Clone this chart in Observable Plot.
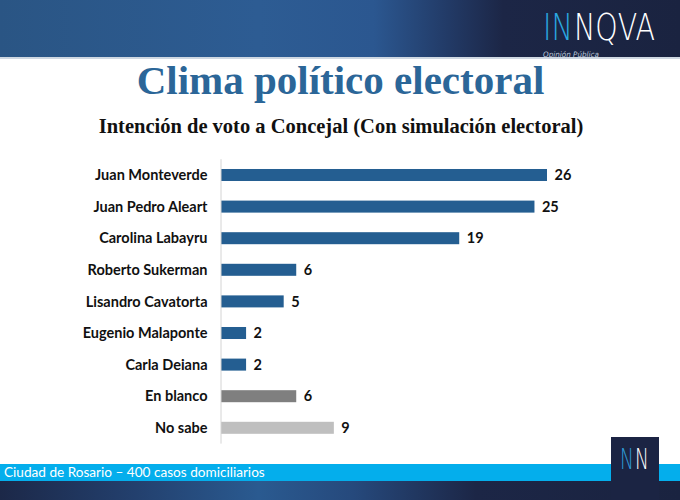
<!DOCTYPE html>
<html>
<head>
<meta charset="utf-8">
<script src="https://cdn.jsdelivr.net/npm/d3@7"></script>
<script src="https://cdn.jsdelivr.net/npm/@observablehq/plot@0.6"></script>
<style>
  html, body { margin: 0; padding: 0; background: #fff; }
  #page { position: relative; width: 680px; height: 500px; overflow: hidden; background: #fff; }
  #header { position: absolute; left: 0; top: 0; width: 680px; height: 57px;
    background: linear-gradient(90deg, #2a5584 0%, #2d5c93 38%, #2b5790 55%, #223a66 66%, #1c2646 74%, #1a2340 100%); }
  #hline { position: absolute; left: 0; top: 57px; width: 680px; height: 2px; background: #cfd8e2; }
  #title { position: absolute; left: 0; width: 681px; top: 59.7px; text-align: center;
    font-family: "Liberation Serif", serif; font-weight: bold; font-size: 41px; line-height: 41px; color: #2b6698; }
  #subtitle { position: absolute; left: 0; width: 682px; top: 116px; text-align: center;
    font-family: "Liberation Serif", serif; font-weight: bold; font-size: 20.5px; line-height: 20.5px; color: #111; }
  #chart { position: absolute; left: 0; top: 150px; }
  #fband { position: absolute; left: 0; top: 464px; width: 680px; height: 17px; background: #04aeec; }
  #fdark { position: absolute; left: 0; top: 481px; width: 680px; height: 19px;
    background: linear-gradient(90deg, #1c2848 0%, #23406e 20%, #2a5a90 38%, #26497c 52%, #1c2646 70%, #1a2340 100%); }
  #caption { position: absolute; left: 4px; top: 466px; font-family: Lato, sans-serif; font-size: 13.6px;
    line-height: 13.6px; color: #fff; }
  #deco { position: absolute; left: 0; top: 0; }
</style>
</head>
<body>
<div id="page">
  <div id="header"></div>
  <div id="hline"></div>
  <div id="title">Clima político electoral</div>
  <div id="subtitle">Intención de voto a Concejal (Con simulación electoral)</div>
  <div id="chart"></div>
  <div id="fband"></div>
  <div id="fdark"></div>
  <div id="caption">Ciudad de Rosario – 400 casos domiciliarios</div>
  <svg id="deco" width="680" height="500" style="pointer-events:none">
    <g transform="translate(543,40) scale(0.77,1)">
      <text x="0" y="0" font-family="DejaVu Sans" font-weight="200" font-size="37" fill="#2aa8e0">IN</text>
    </g>
    <g transform="translate(574,40) scale(0.77,1)">
      <text x="0" y="0" font-family="DejaVu Sans" font-weight="200" font-size="37" fill="#ffffff">NQVA</text>
    </g>
    <text x="543" y="56.5" font-family="DejaVu Sans" font-style="italic" font-size="7.5" fill="#b9c5d8" textLength="56" lengthAdjust="spacingAndGlyphs">Opinión Pública</text>
    <rect x="611" y="437" width="48" height="63" fill="#1b2443"></rect>
    <g transform="translate(620,469) scale(0.66,1)">
      <text x="0" y="0" font-family="DejaVu Sans" font-weight="200" font-size="28" fill="#2f9bd6">N</text>
    </g>
    <g transform="translate(635,469) scale(0.66,1)">
      <text x="0" y="0" font-family="DejaVu Sans" font-weight="200" font-size="28" fill="#ffffff">N</text>
    </g>
  </svg>
</div>
<script>
const categories = ["Juan Monteverde", "Juan Pedro Aleart", "Carolina Labayru", "Roberto Sukerman",
  "Lisandro Cavatorta", "Eugenio Malaponte", "Carla Deiana", "En blanco", "No sabe"];
const values = [26, 25, 19, 6, 5, 2, 2, 6, 9];
const groups = ["cand", "cand", "cand", "cand", "cand", "cand", "cand", "blanco", "nosabe"];

const data = categories.map((c, i) => ({name: c, value: values[i], group: groups[i]}));

const chart = Plot.plot({
  width: 680,
  height: 300,
  marginLeft: 221,
  marginRight: 133,
  marginTop: 9.2,
  marginBottom: 6.4,
  style: {fontFamily: "Lato, sans-serif", fontSize: "14.5px", background: "transparent", color: "#111"},
  x: {domain: [0, 26], axis: null},
  y: {domain: categories, paddingInner: 0.62, paddingOuter: 0.31, round: false, label: null},
  color: {domain: ["cand", "blanco", "nosabe"], range: ["#245e91", "#7f7f7f", "#bfbfbf"]},
  marks: [
    Plot.barX(data, {x: "value", y: "name", fill: "group"}),
    Plot.ruleX([0], {stroke: "#d4d4d4", strokeWidth: 1, dx: -0.5}),
    Plot.axisY({tickSize: 0, tickPadding: 14, fontWeight: "bold", fontSize: 14.5, fill: "#111", label: null}),
    Plot.text(data, {x: "value", y: "name", text: d => String(d.value), dx: 7, textAnchor: "start",
      fontWeight: "bold", fontSize: 14.5, fill: "#111"})
  ]
});
document.getElementById("chart").appendChild(chart);
</script>
</body>
</html>
